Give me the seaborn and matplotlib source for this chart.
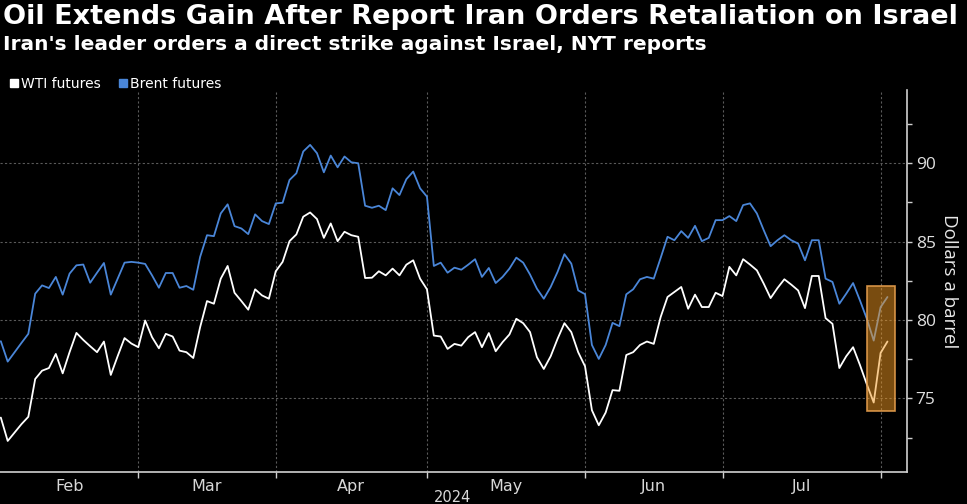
import numpy as np
import pandas as pd
import seaborn as sns
import matplotlib
matplotlib.use("Agg")
import matplotlib.pyplot as plt
from matplotlib.patches import Rectangle
from matplotlib.lines import Line2D
from matplotlib import font_manager

# weekday closes, Feb 1 - Aug 1 2024 (Good Friday skipped)
months = ["Feb", "Mar", "Apr", "May", "Jun", "Jul"]
year_label = "2024"

wti_feb = [73.78, 72.29, 72.82, 73.36, 73.83, 76.24, 76.77, 76.94, 77.84, 76.60, 77.95,
           79.18, 78.73, 78.33, 77.95, 78.63, 76.50, 77.70, 78.85, 78.50, 78.27]
wti_mar = [79.97, 78.91, 78.20, 79.12, 78.95, 78.05, 77.95, 77.58, 79.55, 81.21,
           81.04, 82.64, 83.45, 81.74, 81.21, 80.66, 81.96, 81.57, 81.36, 83.11]
wti_apr = [83.71, 85.03, 85.46, 86.59, 86.86, 86.44, 85.24, 86.16, 85.03, 85.63, 85.41,
           85.31, 82.68, 82.70, 83.11, 82.85, 83.28, 82.85, 83.53, 83.81, 82.64, 81.96]
wti_may = [79.01, 78.95, 78.16, 78.48, 78.37, 78.91, 79.23, 78.27, 79.17, 78.01, 78.59, 79.08,
           80.08, 79.80, 79.23, 77.63, 76.88, 77.69, 78.80, 79.80, 79.23, 77.95, 77.05]
wti_jun = [74.25, 73.29, 74.10, 75.53, 75.49, 77.77, 77.95, 78.41, 78.63, 78.48,
           80.19, 81.47, 81.79, 82.11, 80.72, 81.62, 80.83, 80.83, 81.74, 81.53]
wti_jul = [83.39, 82.85, 83.88, 83.54, 83.17, 82.32, 81.40, 82.04, 82.60, 82.26, 81.89, 80.76,
           82.81, 82.81, 80.12, 79.76, 76.94, 77.69, 78.27, 77.13, 75.90, 74.74, 77.90]
wti_aug = [78.63]

brent_feb = [78.65, 77.35, 77.95, 78.54, 79.12, 81.68, 82.21, 82.04, 82.75, 81.62, 82.96,
             83.49, 83.54, 82.38, 83.02, 83.64, 81.62, 82.64, 83.66, 83.71, 83.66]
brent_mar = [83.58, 82.85, 82.06, 83.00, 83.00, 82.06, 82.17, 81.93, 84.03, 85.41,
             85.35, 86.80, 87.38, 85.99, 85.84, 85.48, 86.74, 86.31, 86.12, 87.44]
brent_apr = [87.48, 88.93, 89.36, 90.75, 91.17, 90.64, 89.42, 90.49, 89.74, 90.43, 90.06,
             90.00, 87.29, 87.16, 87.29, 87.01, 88.40, 87.97, 88.98, 89.47, 88.40, 87.87]
brent_may = [83.45, 83.66, 83.02, 83.34, 83.21, 83.53, 83.88, 82.75, 83.32, 82.36, 82.75, 83.28,
             83.98, 83.66, 82.90, 82.00, 81.36, 82.11, 83.07, 84.20, 83.60, 81.89, 81.65]
brent_jun = [78.41, 77.52, 78.41, 79.82, 79.61, 81.64, 81.96, 82.60, 82.75, 82.64,
             83.96, 85.31, 85.09, 85.67, 85.24, 86.01, 85.03, 85.24, 86.37, 86.37]
brent_jul = [86.63, 86.31, 87.33, 87.44, 86.80, 85.73, 84.71, 85.09, 85.41, 85.09, 84.88, 83.81,
             85.09, 85.09, 82.64, 82.43, 81.04, 81.68, 82.36, 81.25, 80.08, 78.69, 80.82]
brent_aug = [81.47]

wti = wti_feb + wti_mar + wti_apr + wti_may + wti_jun + wti_jul + wti_aug
brent = brent_feb + brent_mar + brent_apr + brent_may + brent_jun + brent_jul + brent_aug
month_sizes = [len(m) for m in (wti_feb, wti_mar, wti_apr, wti_may, wti_jun, wti_jul)]

day = np.arange(len(wti))
df = pd.concat([
    pd.DataFrame({"day": day, "price": wti, "series": "WTI futures"}),
    pd.DataFrame({"day": day, "price": brent, "series": "Brent futures"}),
])

names = {f.name for f in font_manager.fontManager.ttflist}
narrow = "Liberation Sans Narrow" if "Liberation Sans Narrow" in names else "DejaVu Sans"

sns.set_theme(style="dark", rc={"axes.facecolor": "black", "figure.facecolor": "black"})
plt.rcParams["font.family"] = ["DejaVu Sans"]

W, H = 967, 504
fig = plt.figure(figsize=(W / 100, H / 100), dpi=100)
ax = fig.add_axes([0, 1 - 472 / H, 906.7 / W, (472 - 90) / H])

colors = {"WTI futures": "white", "Brent futures": "#4a86d8"}
sns.lineplot(data=df, x="day", y="price", hue="series", palette=colors,
             linewidth=1.3, legend=False, ax=ax)

# highlighted last few sessions
ax.add_patch(Rectangle((125.97, 74.19), 4.13, 7.98, facecolor=(0.95, 0.6, 0.13, 0.5),
                       edgecolor=(0.9, 0.62, 0.3, 0.9), linewidth=1.2, zorder=5))

ax.set_xlim(-0.12, 131.8)
ax.set_ylim(70.31, 94.67)

bounds = np.cumsum(month_sizes) - 1
edges = np.concatenate([[-0.12], bounds])
ax.set_xticks(bounds)
ax.set_xticklabels([])
ax.set_xticks((edges[:-1] + edges[1:]) / 2, minor=True)
ax.set_xticklabels(months, minor=True)
ax.tick_params(axis="x", which="major", length=4, color="#cfcfcf", width=1, bottom=True)
ax.tick_params(axis="x", which="minor", length=0, pad=5, labelsize=11.5, labelcolor="#d8d8d8")
for t in ax.get_xticklabels(minor=True):
    t.set_family(narrow)

ax.yaxis.tick_right()
ax.yaxis.set_label_position("right")
ax.set_yticks([75, 80, 85, 90])
ax.set_yticks([72.5, 77.5, 82.5, 87.5, 92.5], minor=True)
ax.tick_params(axis="y", which="both", length=3.5, width=1, color="#cfcfcf", right=True,
               pad=3, labelsize=12.5, labelcolor="#e0e0e0")
for t in ax.get_yticklabels():
    t.set_family(["Open Sans", "DejaVu Sans"])
ax.set_ylabel("Dollars a barrel", rotation=270, color="#e8e8e8", fontsize=13.5,
              labelpad=16, family=["Open Sans", "DejaVu Sans"])
ax.set_xlabel("")

ax.grid(True, which="major", color="#5a5a5a", linestyle=(0, (2, 2)), linewidth=0.8)
for s in ["left", "top"]:
    ax.spines[s].set_visible(False)
for s in ["right", "bottom"]:
    ax.spines[s].set_color("#d0d0d0")
    ax.spines[s].set_linewidth(1.2)

fig.text(453 / W, 1 - 490 / H, year_label, ha="center", va="top", color="#d8d8d8",
         fontsize=10.5, family=narrow)

title = fig.text(3 / W, 1 - 4 / H, "Oil Extends Gain After Report Iran Orders Retaliation on Israel",
                 ha="left", va="top", color="white", fontsize=20, fontweight="bold", family=narrow)
sub = fig.text(3 / W, 1 - 35 / H, "Iran's leader orders a direct strike against Israel, NYT reports",
               ha="left", va="top", color="white", fontsize=15, fontweight="bold", family=narrow)

# scale heading sizes to the reference widths
fig.canvas.draw()
r = fig.canvas.get_renderer()
for t, target in [(title, 957), (sub, 705)]:
    w = t.get_window_extent(r).width
    t.set_fontsize(t.get_fontsize() * target / w)

handles = [Line2D([], [], marker="s", linestyle="none", markersize=6,
                  markerfacecolor=colors[k], markeredgecolor=colors[k]) for k in colors]
fig.legend(handles, list(colors), loc="upper left", bbox_to_anchor=(0.0, 1 - 67 / H),
           ncol=2, frameon=False, handlelength=0.6, handletextpad=0.2, columnspacing=1.3,
           borderaxespad=0.3, labelcolor="white", prop={"family": narrow, "size": 10})

fig.savefig("out.png", dpi=100, facecolor="black")
